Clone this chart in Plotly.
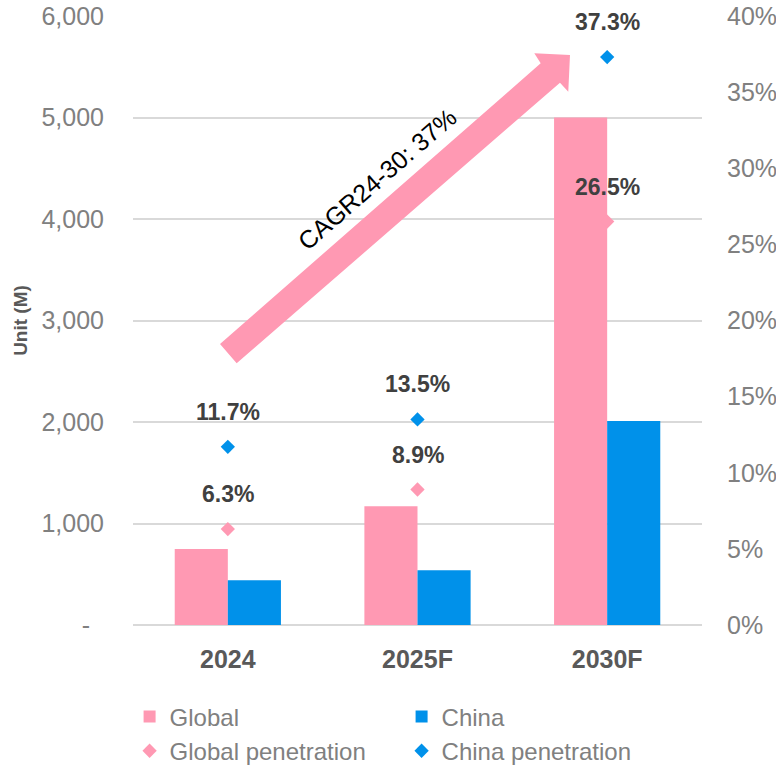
import plotly.graph_objects as go

# ---- data ----
years = ["2024", "2025F", "2030F"]
global_units = [750, 1170, 5000]          # Unit (M)
china_units = [440, 540, 2010]            # Unit (M)
global_pen = [0.063, 0.089, 0.265]        # penetration
china_pen = [0.117, 0.135, 0.373]         # penetration
left_ticks = [0, 1000, 2000, 3000, 4000, 5000, 6000]
left_ticktext = ["-\u00a0\u00a0", "1,000", "2,000", "3,000", "4,000", "5,000", "6,000"]
cagr_label = "CAGR24-30: 37%"

PINK = "#FF99B3"
BLUE = "#0091EA"
GRID = "#D9D9D9"
TICK = "#808080"
DARK = "#404040"
FONT = "Liberation Sans, Arial, sans-serif"

W, H = 776, 767
ML, MR, MT, MB = 133, 74, 16, 142
PW, PH = W - ML - MR, H - MT - MB


def px(x, y):
    """Pixel position on the page -> paper coordinates."""
    return (x - ML) / PW, (H - MB - y) / PH


fig = go.Figure()

fig.add_trace(go.Bar(name="Global", x=years, y=global_units,
                     marker=dict(color=PINK, line=dict(width=0))))
fig.add_trace(go.Bar(name="China", x=years, y=china_units,
                     marker=dict(color=BLUE, line=dict(width=0))))
fig.add_trace(go.Scatter(name="Global penetration", x=years, y=global_pen,
                         mode="markers", yaxis="y2",
                         marker=dict(symbol="diamond", size=11, color=PINK)))
fig.add_trace(go.Scatter(name="China penetration", x=years, y=china_pen,
                         mode="markers", yaxis="y2",
                         marker=dict(symbol="diamond", size=11, color=BLUE)))

# percentage labels above the penetration markers (x given as category index)
annotations = []
for series in (global_pen, china_pen):
    for i, v in enumerate(series):
        annotations.append(dict(
            x=i, y=v, xref="x", yref="y2", yshift=35,
            text=f"<b>{v * 100:.1f}%</b>", showarrow=False,
            font=dict(family=FONT, size=23, color=DARK)))

# growth arrow
arrow_pts = [(220, 344), (540.7, 63.3), (534.3, 53.3), (570, 55),
             (568.3, 91.7), (560, 82.7), (236.7, 363.3)]
path = "M " + " L ".join(f"{px(x, y)[0]:.4f},{px(x, y)[1]:.4f}" for x, y in arrow_pts) + " Z"
fig.add_shape(type="path", path=path, xref="paper", yref="paper",
              fillcolor=PINK, line=dict(width=0), layer="above")

cx, cy = px(377, 179)
annotations.append(dict(x=cx, y=cy, xref="paper", yref="paper", text=cagr_label,
                        xanchor="center", yanchor="middle",
                        textangle=-41, showarrow=False,
                        font=dict(family=FONT, size=25, color="#000000")))

fig.update_layout(
    width=W, height=H, autosize=False,
    margin=dict(l=ML, r=MR, t=MT, b=MB, pad=0, autoexpand=False),
    paper_bgcolor="white", plot_bgcolor="white",
    font=dict(family=FONT, color=TICK),
    barmode="group", bargap=0.44, bargroupgap=0,
    showlegend=True,
    legend=dict(orientation="h", x=-0.006, xanchor="left", y=-0.114, yanchor="top",
                entrywidth=227, entrywidthmode="pixels",
                font=dict(family=FONT, size=24, color=TICK),
                bgcolor="rgba(0,0,0,0)", traceorder="normal"),
    xaxis=dict(type="category", categoryorder="array", categoryarray=years,
               range=[-0.5, len(years) - 0.5], autorange=False, automargin=False,
               showgrid=False, showline=False, ticks="", ticklabelstandoff=17,
               tickfont=dict(family=FONT, size=25, color="#595959", weight="bold")),
    yaxis=dict(range=[0, 6000], tickvals=left_ticks, ticktext=left_ticktext,
               automargin=False,
               showgrid=True, gridcolor=GRID, gridwidth=1.5,
               zeroline=True, zerolinecolor=GRID, zerolinewidth=1.5,
               showline=False, ticks="", ticklabelstandoff=28,
               tickfont=dict(family=FONT, size=25, color=TICK),
               title=dict(text="<b>Unit (M)</b>", standoff=8,
                          font=dict(family=FONT, size=19, color="#595959"))),
    yaxis2=dict(overlaying="y", side="right", range=[0, 0.40], dtick=0.05,
                automargin=False,
                tickformat=".0%", showgrid=False, zeroline=False, showline=False,
                ticks="", ticklabelstandoff=24,
                tickfont=dict(family=FONT, size=25, color=TICK)),
    annotations=annotations,
)

fig.write_html("out.html")
